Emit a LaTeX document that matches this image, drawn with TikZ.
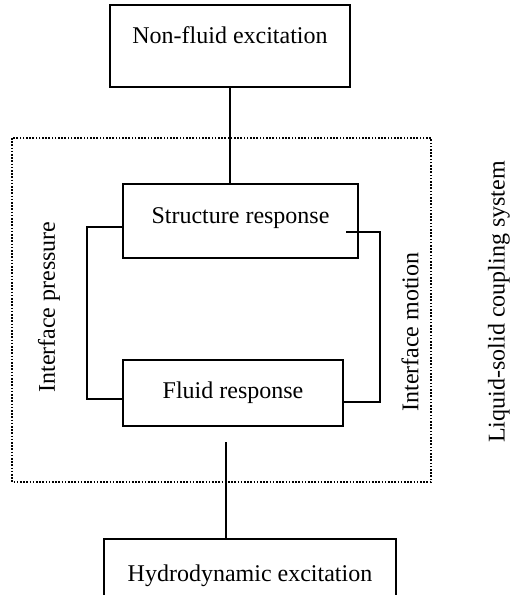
\documentclass[tikz,border=0pt]{standalone}
\usepackage{fontspec}
\setmainfont{Liberation Serif}
\usetikzlibrary{positioning}
\tikzset{
	block/.style={
		rectangle,
		draw=black,
		line width=1.2pt,
		fill=white,
		font=\fontsize{12}{14}\selectfont,
		text height=9pt,
		inner sep=0pt,
		text centered
	},
	link/.style={
		draw=black,
		line width=1pt
	},
	frame/.style={
		draw=black,
		line width=0.8pt,
		dash pattern=on 0.8pt off 0.8pt
	},
	sidelabel/.style={
		rotate=90,
		inner sep=0pt,
		font=\fontsize{12}{14}\selectfont
	},
}

\begin{document}
\begin{tikzpicture}[x=0.5pt,y=-0.5pt]
			\useasboundingbox (0,0) rectangle (510,595);
			\clip (0,0) rectangle (510,595);
			\draw[frame] (12,138) rectangle (431,482);
			\node[block,minimum width=120pt,minimum height=41pt,text depth=11.5pt] (nonfluid) at (230,46) {Non-fluid excitation};
			\node[block,minimum width=117.5pt,minimum height=37pt,text depth=7pt] (structure) at (240.5,221) {Structure response};
			\node[block,minimum width=110pt,minimum height=33pt,text depth=4pt] (fluid) at (233,393) {Fluid response};
			\node[block,minimum width=146pt,minimum height=36pt,text depth=3pt] (hydro) at (250,575) {Hydrodynamic excitation};
			\coordinate (gapend) at (226,442);
			%\draw[link] (fluid.south) -- (hydro.north);
			\draw[link] (nonfluid.south) -- (nonfluid.south |- structure.north);
			\draw[link] (gapend) -- (gapend |- hydro.north);
			\draw[link] ([yshift=-3pt]structure.west) -- ++(-17.5pt,0) |- ([yshift=-3pt]fluid.west);
			\draw[link] ([xshift=-6.5pt,yshift=-5.5pt]structure.east) -- ++(17pt,0) |- ([yshift=-4.5pt]fluid.east);
			\node[sidelabel] (pressure) at (49,307) {Interface pressure};
			\node[sidelabel] (motion) at (410,332) {Interface motion};
			\node[sidelabel] (system) at (499,302) {Liquid-solid coupling system};
			\end{tikzpicture}
\end{document}
